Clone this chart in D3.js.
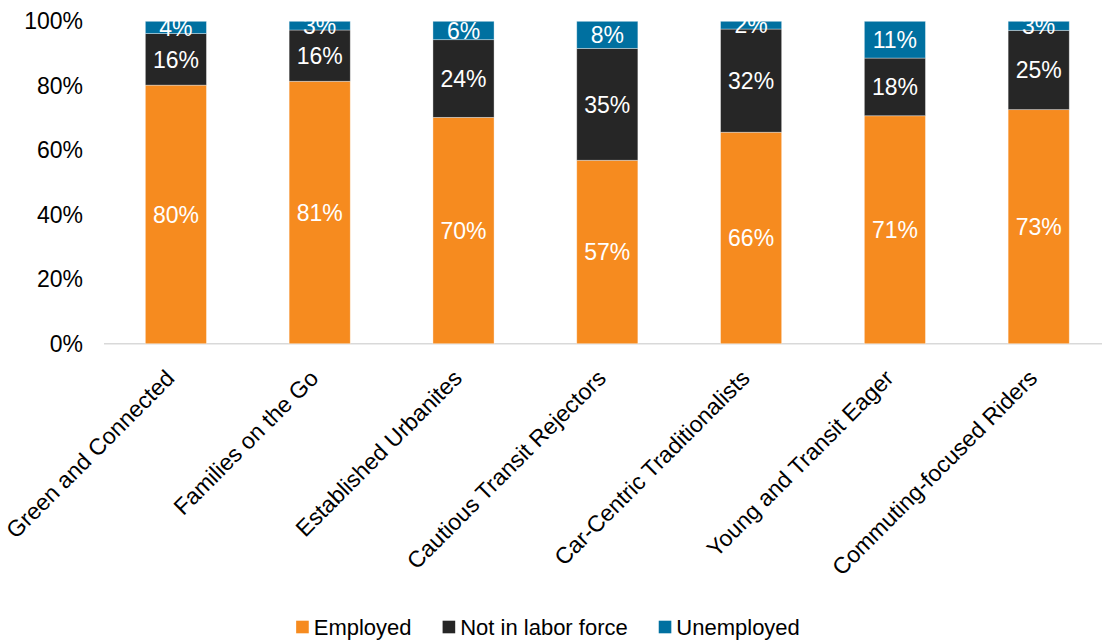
<!DOCTYPE html>
<html>
<head>
<meta charset="utf-8">
<script src="https://cdn.jsdelivr.net/npm/d3@7/dist/d3.min.js"></script>
<style>
  html, body { margin: 0; padding: 0; background: #fff; }
  svg { display: block; font-family: "Liberation Sans", Arial, sans-serif; }
</style>
</head>
<body>
<svg id="chart" width="1102" height="644"></svg>
<script>
// Labor force status by traveler segment (shares of each segment)
const categories = [
  "Green and Connected",
  "Families on the Go",
  "Established Urbanites",
  "Cautious Transit Rejectors",
  "Car-Centric Traditionalists",
  "Young and Transit Eager",
  "Commuting-focused Riders"
];
const seriesNames = ["Employed", "Not in labor force", "Unemployed"];
const employed       = [0.802, 0.814, 0.702, 0.569, 0.656, 0.707, 0.726];
const notInLabor     = [0.160, 0.159, 0.241, 0.347, 0.320, 0.179, 0.246];
const unemployed     = [0.038, 0.027, 0.057, 0.084, 0.024, 0.114, 0.028];
const yTicks = [0, 0.2, 0.4, 0.6, 0.8, 1.0];
const colors = ["#F68B1F", "#262626", "#0070A0"];

const rows = categories.map((c, i) => ({
  category: c,
  "Employed": employed[i],
  "Not in labor force": notInLabor[i],
  "Unemployed": unemployed[i]
}));

const svg = d3.select("#chart");
const plotTop = 21.3, plotBottom = 343.7;

const x = d3.scaleBand()
  .domain(categories)
  .range([104, 1110.6])
  .paddingInner(0.575)
  .paddingOuter(0.2875);

const y = d3.scaleLinear().domain([0, 1]).range([plotBottom, plotTop]);

const layers = d3.stack().keys(seriesNames)(rows);
const pct = d3.format(".0%");

// Baseline
svg.append("line")
  .attr("x1", 104).attr("x2", 1102)
  .attr("y1", y(0)).attr("y2", y(0))
  .attr("stroke", "#D9D9D9").attr("stroke-width", 1.5);

// Y axis (labels only)
const yAxis = svg.append("g")
  .attr("transform", "translate(83,0)")
  .call(d3.axisLeft(y).tickValues(yTicks).tickFormat(pct).tickSize(0).tickPadding(0));
yAxis.select(".domain").remove();
yAxis.selectAll("text")
  .attr("font-size", 23)
  .attr("fill", "#000")
  .attr("font-family", "Liberation Sans, Arial, sans-serif");

// Stacked bars
const groups = svg.append("g").selectAll("g")
  .data(layers)
  .join("g")
  .attr("fill", (d, i) => colors[i]);

groups.selectAll("rect")
  .data(d => d)
  .join("rect")
  .attr("x", d => x(d.data.category))
  .attr("width", x.bandwidth())
  .attr("y", d => y(d[1]))
  .attr("height", d => y(d[0]) - y(d[1]))
  .attr("stroke", "rgba(255,255,255,0.45)")
  .attr("stroke-width", 0.8);

// Value labels inside segments
groups.selectAll("text")
  .data(d => d.map(v => ({ v, key: d.key })))
  .join("text")
  .attr("x", d => x(d.v.data.category) + x.bandwidth() / 2)
  .attr("y", d => (y(d.v[0]) + y(d.v[1])) / 2)
  .attr("dy", "0.36em")
  .attr("text-anchor", "middle")
  .attr("font-size", 23)
  .attr("fill", "#fff")
  .text(d => pct(d.v.data[d.key]));

// X axis category labels, rotated
const xAxis = svg.append("g")
  .attr("transform", `translate(0,${y(0)})`)
  .call(d3.axisBottom(x).tickSize(0).tickPadding(0));
xAxis.select(".domain").remove();
xAxis.selectAll("text")
  .attr("font-size", 23)
  .attr("fill", "#000")
  .attr("font-family", "Liberation Sans, Arial, sans-serif")
  .attr("text-anchor", "end")
  .attr("dy", null)
  .attr("y", 0)
  .attr("transform", "translate(0,36) rotate(-45)");

// Legend
const legend = svg.append("g");
let cursor = 0;
seriesNames.forEach((name, i) => {
  const item = legend.append("g").attr("transform", `translate(${cursor},0)`);
  item.append("rect")
    .attr("x", 0).attr("y", 620.7)
    .attr("width", 12.6).attr("height", 12.6)
    .attr("fill", colors[i]);
  const t = item.append("text")
    .attr("x", 17.6).attr("y", 635)
    .attr("font-size", 22)
    .attr("fill", "#000")
    .text(name);
  cursor += 17.6 + t.node().getComputedTextLength() + 31;
});
const legendWidth = cursor - 31;
legend.attr("transform", `translate(${548 - legendWidth / 2},0)`);
</script>
</body>
</html>
